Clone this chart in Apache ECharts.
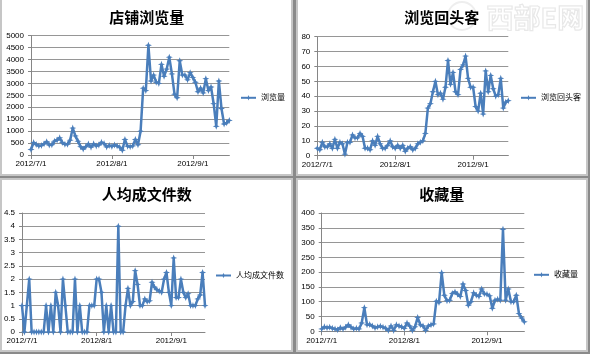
<!DOCTYPE html>
<html><head><meta charset="utf-8">
<script src="https://cdn.jsdelivr.net/npm/echarts@6/dist/echarts.min.js"></script>
<style>
html,body{margin:0;padding:0;width:590px;height:354px;overflow:hidden;background:#8a8a8a;}
.p{position:absolute;background:#fff;border:2px solid #c6c6c6;box-sizing:border-box;}
#c{position:absolute;left:0;top:0;width:590px;height:354px;}
</style></head><body>
<div class="p" style="left:0;top:-3px;width:293px;height:178.5px"></div>
<div class="p" style="left:296px;top:-3px;width:292px;height:178.5px"></div>
<div class="p" style="left:0;top:178px;width:293px;height:174px"></div>
<div class="p" style="left:296px;top:178px;width:292px;height:174px"></div>
<div id="c"></div>
<script>
// categories: daily dates 2012/7/1 .. 2012/9/15
const categories = [];
(function(){ const d = new Date(2012, 6, 1); for (let i = 0; i < 77; i++) { categories.push(d.getFullYear() + '/' + (d.getMonth()+1) + '/' + d.getDate()); d.setDate(d.getDate()+1); } })();
const tickLabels = ['2012/7/1', '2012/8/1', '2012/9/1'];
const titles = ['店铺浏览量', '浏览回头客', '人均成文件数', '收藏量'];
const seriesNames = ['浏览量', '浏览回头客', '人均成文件数', '收藏量'];

const views = [230,520,440,380,400,470,560,420,430,580,630,720,520,450,450,620,1130,800,580,350,
  250,350,460,330,470,380,420,530,480,340,400,360,420,380,320,200,650,370,350,380,
  650,430,1000,2800,2700,4600,3100,3350,3050,3000,3800,3300,3600,4100,3400,2550,2400,3950,3350,3350,
  3150,3450,3250,3050,2650,2800,2600,3200,2700,2850,2150,1200,3100,1950,1300,1350,1450];
const returning = [5,4,9,6,6,8,5,11,5,9,8,1,9,9,14,12,12,15,13,5,
  5,4,10,7,13,8,5,5,7,10,6,5,7,5,7,3,5,6,4,5,
  8,9,10,15,32,35,43,50,41,42,38,46,64,48,56,43,41,58,61,67,
  52,46,46,33,30,42,28,57,43,54,45,40,41,52,32,36,37];
const perCapita = [1,0,1,2,0,0,0,0,0,0,1,0,1,0,1.5,1,0,2,1,0,
  0,0,2,0,1,0,0,0,1,1,1,2,2,1.5,0,1,0,1,0,0,
  4,0,0,1,1.65,1,1.15,2.32,1.8,1,1,1.25,1.15,1.18,1.88,1.7,1.6,1.55,1.5,2,
  2.25,1.5,1,2.8,1.3,1.3,2,1.5,1.3,1.45,1,1,1,1.25,1.4,2.25,1];
const favorites = [8,15,12,14,10,8,5,12,8,14,22,14,8,10,8,28,80,22,23,18,
  12,15,17,14,10,3,18,3,22,18,15,10,28,18,3,15,47,22,18,3,
  18,22,25,102,97,198,122,103,105,128,133,125,118,160,138,88,100,130,122,118,
  143,127,125,120,78,105,108,105,345,105,143,100,100,122,60,45,32];

const seriesData = [views, returning, perCapita, favorites];
const yMax = [5000, 80, 4.5, 400];
const yStep = [500, 10, 0.5, 50];

const grids = [
  {left: 31, top: 35.7, width: 198.3, height: 119.3},
  {left: 317.3, top: 36.7, width: 191, height: 119},
  {left: 22, top: 213, width: 183, height: 119},
  {left: 321.7, top: 213, width: 202.6, height: 118.3}
];
const titlePos = [[146.7, 17], [441.7, 17], [146.7, 194], [441.7, 194]];
const legendPos = [[240, 99.3], [520, 99.3], [215, 277], [533, 276.3]];

const FONT = "'Liberation Sans','Noto Sans CJK SC',sans-serif";
const LINE = '#4a7ebb';
const AX = '#868686';
const star = 'path://M0,-10 L2.6,-2.6 L10,0 L2.6,2.6 L0,10 L-2.6,2.6 L-10,0 L-2.6,-2.6 Z';
const isTick = (i, v) => tickLabels.indexOf(v) >= 0;

const option = {
  animation: false,
  backgroundColor: 'transparent',
  textStyle: {fontFamily: FONT},
  grid: grids.map(g => Object.assign({containLabel: false}, g)),
  xAxis: grids.map((g, i) => ({
    type: 'category', gridIndex: i, data: categories, boundaryGap: false,
    axisLine: {lineStyle: {color: AX, width: 1}},
    axisTick: {show: true, interval: isTick, length: 4, lineStyle: {color: AX}},
    axisLabel: {interval: isTick, fontSize: 8, color: '#000', margin: 5, fontFamily: FONT},
    splitLine: {show: false}
  })),
  yAxis: grids.map((g, i) => ({
    type: 'value', gridIndex: i, min: 0, max: yMax[i], interval: yStep[i],
    axisLine: {show: true, lineStyle: {color: AX, width: 1}},
    axisTick: {show: true, length: 3, lineStyle: {color: AX}},
    axisLabel: {fontSize: 8, color: '#000', margin: 7, fontFamily: FONT, formatter: v => String(v)},
    splitLine: {show: true, lineStyle: {color: '#969696', width: 1}}
  })),
  legend: legendPos.map((p, i) => ({
    data: [seriesNames[i]], left: p[0], top: p[1] - 5.5, padding: 0,
    itemWidth: 15, itemHeight: 7,
    textStyle: {fontSize: 8, color: '#000', fontFamily: FONT}
  })),
  graphic: [
    {type: 'text', left: 486, top: 4, z: -1, silent: true,
     style: {text: '西部E网', fontSize: 27, fontWeight: 'bold', fontFamily: "'Noto Sans CJK SC'", fill: 'rgba(255,255,255,0)', stroke: '#e8e8e8', lineWidth: 1.2}},
    {type: 'circle', shape: {cx: 462, cy: 16, r: 14}, z: -1, silent: true,
     style: {fill: 'none', stroke: '#eeeeee', lineWidth: 2}}
  ].concat(titlePos.map((p, i) => ({
    type: 'text', x: p[0], y: p[1], z: 10,
    style: {text: titles[i], fontSize: 15, fontWeight: 'bold', fontFamily: "'Noto Sans CJK SC'", fill: '#000', align: 'center', verticalAlign: 'middle'}
  }))),
  series: seriesData.map((d, i) => ({
    type: 'line', name: seriesNames[i], xAxisIndex: i, yAxisIndex: i, data: d,
    symbol: star, symbolSize: 7, showAllSymbol: true,
    lineStyle: {color: LINE, width: 2.5},
    itemStyle: {color: LINE}
  }))
};
const chart = echarts.init(document.getElementById('c'), null, {renderer: 'canvas'});
chart.setOption(option);
</script>
</body></html>
